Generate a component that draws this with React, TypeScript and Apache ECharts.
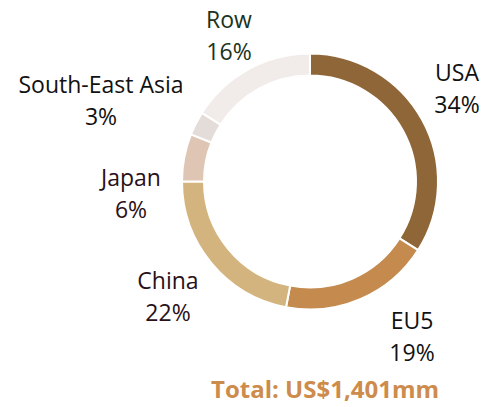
import React, { useEffect, useRef } from "react";
import * as echarts from "echarts";

const categories = ["USA", "EU5", "China", "Japan", "South-East Asia", "Row"];
const shares = [34, 19, 22, 6, 3, 16];
const colors = ["#8e6637", "#c48a4e", "#d4b47e", "#dfc6b4", "#e3dcd8", "#f1ece9"];
const labelColors = ["#111111", "#111111", "#2a1018", "#2a1018", "#111111", "#1b3320"];
const labelPos = [
  [457, 88],
  [412, 336],
  [168, 296],
  [131, 193],
  [101, 100],
  [229, 35],
];
const totalText = "Total: US$1,401mm";

export default function App() {
  const ref = useRef<HTMLDivElement>(null);
  useEffect(() => {
    if (!ref.current) return;
    const chart = echarts.init(ref.current, undefined, { renderer: "svg" });
    chart.setOption({
      animation: false,
      backgroundColor: "#ffffff",
      graphic: [
        {
          type: "text",
          left: 211,
          top: 376,
          style: {
            text: totalText,
            font: "bold 24px 'Open Sans'",
            fill: "#cd8b4c",
          },
        },
      ],
      series: [
        {
          type: "pie",
          center: [310, 181.5],
          radius: [106, 128],
          startAngle: 90,
          clockwise: true,
          avoidLabelOverlap: false,
          itemStyle: { borderColor: "#ffffff", borderWidth: 2 },
          label: {
            show: true,
            position: "outside",
            formatter: (p: any) => `${p.name}\n${p.value}%`,
            fontFamily: "'Open Sans'",
            fontSize: 23,
            lineHeight: 32,
            align: "center",
          },
          labelLine: { show: false },
          labelLayout: (params: any) => ({
            x: labelPos[params.dataIndex][0],
            y: labelPos[params.dataIndex][1],
            align: "center",
            verticalAlign: "middle",
          }),
          emphasis: { disabled: true },
          data: categories.map((c, i) => ({
            name: c,
            value: shares[i],
            itemStyle: { color: colors[i] },
            label: { color: labelColors[i] },
          })),
        },
      ],
    });
    return () => chart.dispose();
  }, []);
  return (
    <div
      ref={ref}
      style={{ position: "fixed", left: 0, top: 0, width: 484, height: 407 }}
    />
  );
}
